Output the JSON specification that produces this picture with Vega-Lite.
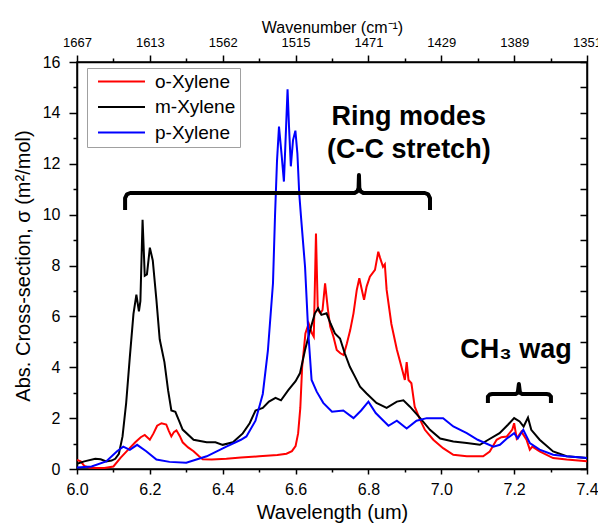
{
  "$schema": "https://vega.github.io/schema/vega-lite/v6.json",
  "width": 510,
  "height": 407,
  "autosize": {"type": "none"},
  "padding": {"left": 77, "top": 62, "right": 11, "bottom": 56},
  "background": "white",
  "config": {
    "font": "Liberation Sans",
    "view": {"stroke": "black", "strokeWidth": 1.5},
    "axis": {"grid": false, "domainColor": "black", "domainWidth": 1.5, "tickColor": "black", "tickWidth": 1.5, "labelColor": "black", "titleColor": "black", "titleFontWeight": "normal", "labelFont": "Liberation Sans", "titleFont": "Liberation Sans", "labelOverlap": false, "labelFlush": false}
  },
  "datasets": {
    "spectra": [
      {"s":"o-Xylene","x":6.000,"y":0.36},{"s":"o-Xylene","x":6.010,"y":0.30},{"s":"o-Xylene","x":6.020,"y":0.12},{"s":"o-Xylene","x":6.035,"y":0.05},{"s":"o-Xylene","x":6.050,"y":0.04},{"s":"o-Xylene","x":6.075,"y":0.04},{"s":"o-Xylene","x":6.100,"y":0.10},{"s":"o-Xylene","x":6.120,"y":0.45},{"s":"o-Xylene","x":6.140,"y":0.75},{"s":"o-Xylene","x":6.160,"y":1.05},{"s":"o-Xylene","x":6.175,"y":1.25},{"s":"o-Xylene","x":6.186,"y":1.34},{"s":"o-Xylene","x":6.200,"y":1.15},{"s":"o-Xylene","x":6.210,"y":1.40},{"s":"o-Xylene","x":6.220,"y":1.70},{"s":"o-Xylene","x":6.232,"y":1.80},{"s":"o-Xylene","x":6.245,"y":1.75},{"s":"o-Xylene","x":6.252,"y":1.50},{"s":"o-Xylene","x":6.259,"y":1.28},{"s":"o-Xylene","x":6.266,"y":1.45},{"s":"o-Xylene","x":6.273,"y":1.52},{"s":"o-Xylene","x":6.282,"y":1.30},{"s":"o-Xylene","x":6.290,"y":1.05},{"s":"o-Xylene","x":6.305,"y":0.85},{"s":"o-Xylene","x":6.320,"y":0.70},{"s":"o-Xylene","x":6.335,"y":0.50},{"s":"o-Xylene","x":6.345,"y":0.38},{"s":"o-Xylene","x":6.370,"y":0.37},{"s":"o-Xylene","x":6.410,"y":0.40},{"s":"o-Xylene","x":6.450,"y":0.45},{"s":"o-Xylene","x":6.500,"y":0.50},{"s":"o-Xylene","x":6.550,"y":0.55},{"s":"o-Xylene","x":6.575,"y":0.60},{"s":"o-Xylene","x":6.590,"y":0.70},{"s":"o-Xylene","x":6.600,"y":0.90},{"s":"o-Xylene","x":6.607,"y":1.40},{"s":"o-Xylene","x":6.613,"y":2.40},{"s":"o-Xylene","x":6.618,"y":4.00},{"s":"o-Xylene","x":6.627,"y":5.33},{"s":"o-Xylene","x":6.636,"y":5.72},{"s":"o-Xylene","x":6.645,"y":5.33},{"s":"o-Xylene","x":6.650,"y":5.20},{"s":"o-Xylene","x":6.656,"y":9.26},{"s":"o-Xylene","x":6.661,"y":6.25},{"s":"o-Xylene","x":6.668,"y":6.12},{"s":"o-Xylene","x":6.674,"y":6.25},{"s":"o-Xylene","x":6.681,"y":7.30},{"s":"o-Xylene","x":6.689,"y":6.25},{"s":"o-Xylene","x":6.695,"y":5.60},{"s":"o-Xylene","x":6.704,"y":5.20},{"s":"o-Xylene","x":6.713,"y":4.68},{"s":"o-Xylene","x":6.723,"y":4.55},{"s":"o-Xylene","x":6.732,"y":4.48},{"s":"o-Xylene","x":6.741,"y":4.94},{"s":"o-Xylene","x":6.750,"y":5.46},{"s":"o-Xylene","x":6.759,"y":6.12},{"s":"o-Xylene","x":6.768,"y":7.04},{"s":"o-Xylene","x":6.775,"y":7.50},{"s":"o-Xylene","x":6.782,"y":7.04},{"s":"o-Xylene","x":6.788,"y":6.65},{"s":"o-Xylene","x":6.795,"y":7.17},{"s":"o-Xylene","x":6.804,"y":7.56},{"s":"o-Xylene","x":6.818,"y":7.83},{"s":"o-Xylene","x":6.827,"y":8.54},{"s":"o-Xylene","x":6.832,"y":8.30},{"s":"o-Xylene","x":6.840,"y":7.95},{"s":"o-Xylene","x":6.845,"y":8.05},{"s":"o-Xylene","x":6.850,"y":7.04},{"s":"o-Xylene","x":6.863,"y":5.70},{"s":"o-Xylene","x":6.878,"y":4.70},{"s":"o-Xylene","x":6.891,"y":4.00},{"s":"o-Xylene","x":6.900,"y":3.50},{"s":"o-Xylene","x":6.905,"y":4.20},{"s":"o-Xylene","x":6.910,"y":3.50},{"s":"o-Xylene","x":6.918,"y":3.37},{"s":"o-Xylene","x":6.927,"y":2.45},{"s":"o-Xylene","x":6.942,"y":1.93},{"s":"o-Xylene","x":6.955,"y":1.54},{"s":"o-Xylene","x":6.978,"y":1.15},{"s":"o-Xylene","x":7.005,"y":0.82},{"s":"o-Xylene","x":7.033,"y":0.56},{"s":"o-Xylene","x":7.070,"y":0.50},{"s":"o-Xylene","x":7.115,"y":0.50},{"s":"o-Xylene","x":7.133,"y":0.69},{"s":"o-Xylene","x":7.152,"y":1.15},{"s":"o-Xylene","x":7.165,"y":1.25},{"s":"o-Xylene","x":7.180,"y":1.28},{"s":"o-Xylene","x":7.195,"y":1.55},{"s":"o-Xylene","x":7.200,"y":1.80},{"s":"o-Xylene","x":7.207,"y":1.20},{"s":"o-Xylene","x":7.220,"y":1.47},{"s":"o-Xylene","x":7.234,"y":1.15},{"s":"o-Xylene","x":7.243,"y":0.76},{"s":"o-Xylene","x":7.250,"y":0.88},{"s":"o-Xylene","x":7.270,"y":0.69},{"s":"o-Xylene","x":7.307,"y":0.43},{"s":"o-Xylene","x":7.344,"y":0.37},{"s":"o-Xylene","x":7.400,"y":0.30},
      {"s":"m-Xylene","x":6.000,"y":0.20},{"s":"m-Xylene","x":6.020,"y":0.30},{"s":"m-Xylene","x":6.050,"y":0.40},{"s":"m-Xylene","x":6.065,"y":0.38},{"s":"m-Xylene","x":6.080,"y":0.30},{"s":"m-Xylene","x":6.095,"y":0.33},{"s":"m-Xylene","x":6.105,"y":0.40},{"s":"m-Xylene","x":6.115,"y":0.60},{"s":"m-Xylene","x":6.125,"y":1.28},{"s":"m-Xylene","x":6.135,"y":2.60},{"s":"m-Xylene","x":6.145,"y":4.40},{"s":"m-Xylene","x":6.155,"y":6.10},{"s":"m-Xylene","x":6.163,"y":6.85},{"s":"m-Xylene","x":6.170,"y":6.20},{"s":"m-Xylene","x":6.174,"y":6.60},{"s":"m-Xylene","x":6.180,"y":9.80},{"s":"m-Xylene","x":6.186,"y":7.60},{"s":"m-Xylene","x":6.192,"y":7.65},{"s":"m-Xylene","x":6.200,"y":8.70},{"s":"m-Xylene","x":6.208,"y":8.20},{"s":"m-Xylene","x":6.218,"y":6.65},{"s":"m-Xylene","x":6.227,"y":5.10},{"s":"m-Xylene","x":6.240,"y":4.20},{"s":"m-Xylene","x":6.250,"y":3.10},{"s":"m-Xylene","x":6.259,"y":2.30},{"s":"m-Xylene","x":6.270,"y":2.25},{"s":"m-Xylene","x":6.280,"y":1.90},{"s":"m-Xylene","x":6.290,"y":1.55},{"s":"m-Xylene","x":6.320,"y":1.15},{"s":"m-Xylene","x":6.356,"y":1.05},{"s":"m-Xylene","x":6.380,"y":1.05},{"s":"m-Xylene","x":6.400,"y":0.95},{"s":"m-Xylene","x":6.428,"y":1.05},{"s":"m-Xylene","x":6.455,"y":1.40},{"s":"m-Xylene","x":6.474,"y":1.80},{"s":"m-Xylene","x":6.490,"y":2.30},{"s":"m-Xylene","x":6.510,"y":2.40},{"s":"m-Xylene","x":6.527,"y":2.65},{"s":"m-Xylene","x":6.545,"y":2.80},{"s":"m-Xylene","x":6.560,"y":2.70},{"s":"m-Xylene","x":6.580,"y":3.10},{"s":"m-Xylene","x":6.600,"y":3.45},{"s":"m-Xylene","x":6.612,"y":3.76},{"s":"m-Xylene","x":6.626,"y":4.68},{"s":"m-Xylene","x":6.640,"y":5.46},{"s":"m-Xylene","x":6.653,"y":6.12},{"s":"m-Xylene","x":6.662,"y":6.32},{"s":"m-Xylene","x":6.671,"y":6.06},{"s":"m-Xylene","x":6.685,"y":6.12},{"s":"m-Xylene","x":6.696,"y":5.72},{"s":"m-Xylene","x":6.708,"y":5.33},{"s":"m-Xylene","x":6.722,"y":5.13},{"s":"m-Xylene","x":6.735,"y":4.55},{"s":"m-Xylene","x":6.749,"y":4.02},{"s":"m-Xylene","x":6.763,"y":3.63},{"s":"m-Xylene","x":6.777,"y":3.24},{"s":"m-Xylene","x":6.795,"y":2.97},{"s":"m-Xylene","x":6.822,"y":2.60},{"s":"m-Xylene","x":6.850,"y":2.40},{"s":"m-Xylene","x":6.878,"y":2.65},{"s":"m-Xylene","x":6.896,"y":2.70},{"s":"m-Xylene","x":6.914,"y":2.45},{"s":"m-Xylene","x":6.942,"y":2.00},{"s":"m-Xylene","x":6.969,"y":1.54},{"s":"m-Xylene","x":6.997,"y":1.20},{"s":"m-Xylene","x":7.033,"y":1.08},{"s":"m-Xylene","x":7.070,"y":1.02},{"s":"m-Xylene","x":7.106,"y":0.95},{"s":"m-Xylene","x":7.129,"y":1.15},{"s":"m-Xylene","x":7.160,"y":1.41},{"s":"m-Xylene","x":7.183,"y":1.74},{"s":"m-Xylene","x":7.200,"y":2.00},{"s":"m-Xylene","x":7.215,"y":1.87},{"s":"m-Xylene","x":7.226,"y":1.67},{"s":"m-Xylene","x":7.238,"y":2.02},{"s":"m-Xylene","x":7.247,"y":1.54},{"s":"m-Xylene","x":7.270,"y":1.15},{"s":"m-Xylene","x":7.307,"y":0.69},{"s":"m-Xylene","x":7.344,"y":0.50},{"s":"m-Xylene","x":7.400,"y":0.43},
      {"s":"p-Xylene","x":6.000,"y":0.06},{"s":"p-Xylene","x":6.040,"y":0.10},{"s":"p-Xylene","x":6.080,"y":0.30},{"s":"p-Xylene","x":6.110,"y":0.70},{"s":"p-Xylene","x":6.127,"y":0.88},{"s":"p-Xylene","x":6.145,"y":0.75},{"s":"p-Xylene","x":6.165,"y":0.95},{"s":"p-Xylene","x":6.190,"y":0.70},{"s":"p-Xylene","x":6.218,"y":0.37},{"s":"p-Xylene","x":6.254,"y":0.28},{"s":"p-Xylene","x":6.300,"y":0.25},{"s":"p-Xylene","x":6.356,"y":0.50},{"s":"p-Xylene","x":6.410,"y":0.88},{"s":"p-Xylene","x":6.450,"y":1.15},{"s":"p-Xylene","x":6.465,"y":1.28},{"s":"p-Xylene","x":6.490,"y":1.90},{"s":"p-Xylene","x":6.510,"y":2.95},{"s":"p-Xylene","x":6.524,"y":4.65},{"s":"p-Xylene","x":6.538,"y":7.30},{"s":"p-Xylene","x":6.5435,"y":9.92},{"s":"p-Xylene","x":6.549,"y":12.10},{"s":"p-Xylene","x":6.5545,"y":13.46},{"s":"p-Xylene","x":6.562,"y":12.30},{"s":"p-Xylene","x":6.568,"y":11.30},{"s":"p-Xylene","x":6.574,"y":13.46},{"s":"p-Xylene","x":6.578,"y":14.93},{"s":"p-Xylene","x":6.582,"y":13.46},{"s":"p-Xylene","x":6.587,"y":11.90},{"s":"p-Xylene","x":6.593,"y":12.93},{"s":"p-Xylene","x":6.5995,"y":13.30},{"s":"p-Xylene","x":6.605,"y":12.40},{"s":"p-Xylene","x":6.610,"y":10.84},{"s":"p-Xylene","x":6.615,"y":9.90},{"s":"p-Xylene","x":6.626,"y":7.95},{"s":"p-Xylene","x":6.635,"y":5.33},{"s":"p-Xylene","x":6.644,"y":3.50},{"s":"p-Xylene","x":6.658,"y":3.04},{"s":"p-Xylene","x":6.676,"y":2.60},{"s":"p-Xylene","x":6.700,"y":2.25},{"s":"p-Xylene","x":6.731,"y":2.30},{"s":"p-Xylene","x":6.759,"y":2.00},{"s":"p-Xylene","x":6.780,"y":2.30},{"s":"p-Xylene","x":6.800,"y":2.65},{"s":"p-Xylene","x":6.820,"y":2.20},{"s":"p-Xylene","x":6.855,"y":1.70},{"s":"p-Xylene","x":6.878,"y":1.90},{"s":"p-Xylene","x":6.905,"y":1.59},{"s":"p-Xylene","x":6.932,"y":1.90},{"s":"p-Xylene","x":6.960,"y":2.00},{"s":"p-Xylene","x":7.005,"y":2.00},{"s":"p-Xylene","x":7.033,"y":1.67},{"s":"p-Xylene","x":7.070,"y":1.41},{"s":"p-Xylene","x":7.100,"y":1.15},{"s":"p-Xylene","x":7.143,"y":0.88},{"s":"p-Xylene","x":7.161,"y":0.95},{"s":"p-Xylene","x":7.180,"y":1.20},{"s":"p-Xylene","x":7.200,"y":1.41},{"s":"p-Xylene","x":7.210,"y":1.20},{"s":"p-Xylene","x":7.225,"y":1.54},{"s":"p-Xylene","x":7.243,"y":1.02},{"s":"p-Xylene","x":7.270,"y":0.76},{"s":"p-Xylene","x":7.307,"y":0.56},{"s":"p-Xylene","x":7.344,"y":0.50},{"s":"p-Xylene","x":7.400,"y":0.43}
    ],
    "brackets": [
      {"b":"ring","o":1,"x":6.132,"y":10.18},{"b":"ring","o":2,"x":6.132,"y":10.65},{"b":"ring","o":3,"x":6.137,"y":10.80},{"b":"ring","o":4,"x":6.146,"y":10.85},{"b":"ring","o":5,"x":6.762,"y":10.85},{"b":"ring","o":6,"x":6.770,"y":10.92},{"b":"ring","o":7,"x":6.773,"y":11.05},{"b":"ring","o":8,"x":6.774,"y":11.56},{"b":"ring","o":9,"x":6.775,"y":11.05},{"b":"ring","o":10,"x":6.778,"y":10.92},{"b":"ring","o":11,"x":6.786,"y":10.85},{"b":"ring","o":12,"x":6.955,"y":10.85},{"b":"ring","o":13,"x":6.964,"y":10.80},{"b":"ring","o":14,"x":6.969,"y":10.65},{"b":"ring","o":15,"x":6.969,"y":10.18},
      {"b":"wag","o":1,"x":7.128,"y":2.59},{"b":"wag","o":2,"x":7.128,"y":2.85},{"b":"wag","o":3,"x":7.133,"y":2.93},{"b":"wag","o":4,"x":7.140,"y":2.95},{"b":"wag","o":5,"x":7.204,"y":2.95},{"b":"wag","o":6,"x":7.210,"y":3.00},{"b":"wag","o":7,"x":7.213,"y":3.34},{"b":"wag","o":8,"x":7.216,"y":3.00},{"b":"wag","o":9,"x":7.222,"y":2.95},{"b":"wag","o":10,"x":7.289,"y":2.95},{"b":"wag","o":11,"x":7.296,"y":2.93},{"b":"wag","o":12,"x":7.301,"y":2.85},{"b":"wag","o":13,"x":7.301,"y":2.59}
    ],
    "notes": [
      {"x":6.911,"y":13.84,"t":"Ring modes"},
      {"x":6.911,"y":12.54,"t":"(C-C stretch)"},
      {"x":7.205,"y":4.68,"t":"CH₃ wag"}
    ]
  },
  "layer": [
    {
      "data": {"name": "spectra"},
      "mark": {"type": "line", "strokeWidth": 2, "clip": true},
      "encoding": {
        "x": {"field": "x", "type": "quantitative", "scale": {"domain": [6.0, 7.4], "nice": false, "zero": false},
          "axis": {"orient": "bottom", "title": "Wavelength (um)", "titleFontSize": 20, "titlePadding": 5, "labelFontSize": 16, "labelPadding": 7,
            "values": [6.0,6.1,6.2,6.3,6.4,6.5,6.6,6.7,6.8,6.9,7.0,7.1,7.2,7.3,7.4], "format": ".1f",
            "labelExpr": "round(datum.value*10) % 2 == 0 ? datum.label : ''",
            "tickSize": {"condition": {"test": "round(datum.value*10) % 2 == 1", "value": 3}, "value": 5}}},
        "y": {"field": "y", "type": "quantitative", "scale": {"domain": [0, 16], "nice": false},
          "axis": {"orient": "left", "title": "Abs. Cross-section, σ (m²/mol)", "titleFontSize": 20, "titlePadding": 9, "labelFontSize": 16, "labelPadding": 9,
            "values": [0,1,2,3,4,5,6,7,8,9,10,11,12,13,14,15,16],
            "labelExpr": "datum.value % 2 == 0 ? datum.label : ''",
            "tickSize": {"condition": {"test": "datum.value % 2 == 1", "value": 4}, "value": 8}}},
        "color": {"field": "s", "type": "nominal", "sort": ["o-Xylene","m-Xylene","p-Xylene"],
          "scale": {"domain": ["o-Xylene","m-Xylene","p-Xylene"], "range": ["#ff0000","#000000","#0000ff"]},
          "legend": {"orient": "none", "legendX": 10, "legendY": 6, "title": null, "direction": "vertical",
            "symbolType": "M-4,0H4", "symbolSize": 138, "symbolStrokeWidth": 2, "symbolOffset": 21, "labelOffset": 24,
            "labelFontSize": 19, "labelColor": "black", "rowPadding": 5.5, "padding": 4,
            "strokeColor": "#a0a0a0", "fillColor": "white"}}
      }
    },
    {
      "data": {"name": "brackets"},
      "mark": {"type": "line", "strokeWidth": 4, "color": "black", "strokeJoin": "round", "strokeCap": "butt"},
      "encoding": {
        "x": {"field": "x", "type": "quantitative",
          "axis": {"orient": "top", "title": "Wavenumber (cm⁻¹)", "titleFontSize": 16, "titlePadding": 1, "labelFontSize": 13, "labelPadding": 6,
            "values": [6.0,6.1,6.2,6.3,6.4,6.5,6.6,6.7,6.8,6.9,7.0,7.1,7.2,7.3,7.4],
            "labelExpr": "round(datum.value*10) % 2 == 0 ? format(10000/datum.value - 0.01, 'd') : ''",
            "tickSize": {"condition": {"test": "round(datum.value*10) % 2 == 1", "value": 4}, "value": 7}}},
        "y": {"field": "y", "type": "quantitative",
          "axis": {"orient": "right", "title": null, "labels": false,
            "values": [0,1,2,3,4,5,6,7,8,9,10,11,12,13,14,15,16], "tickSize": -7}},
        "detail": {"field": "b", "type": "nominal"},
        "order": {"field": "o", "type": "quantitative"}
      }
    },
    {
      "data": {"name": "notes"},
      "mark": {"type": "text", "fontSize": 27, "fontWeight": "bold", "color": "black", "align": "center", "baseline": "middle", "font": "Liberation Sans"},
      "encoding": {
        "x": {"field": "x", "type": "quantitative", "axis": null},
        "y": {"field": "y", "type": "quantitative", "axis": null},
        "text": {"field": "t"}
      }
    }
  ],
  "resolve": {"axis": {"x": "independent", "y": "independent"}}
}
